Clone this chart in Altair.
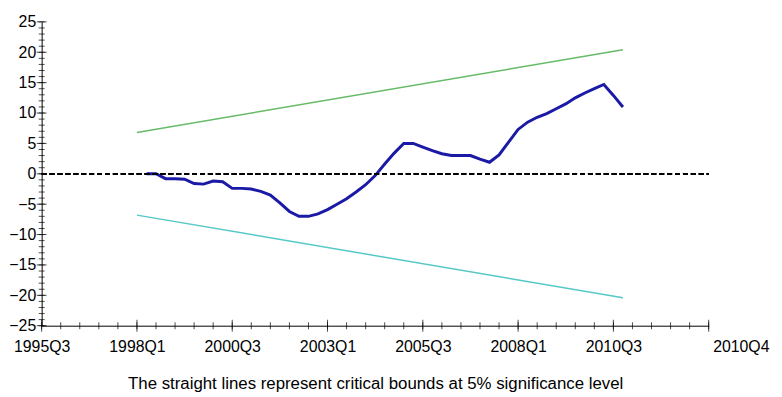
import altair as alt
import pandas as pd

# ---- data ----
cusum_q = list(range(11, 62))  # quarter index, 0 = 1995Q3
cusum_vals = [0.0, 0.0, -0.8, -0.8, -0.9, -1.6, -1.7, -1.2, -1.3, -2.4,
              -2.4, -2.5, -2.9, -3.5, -4.8, -6.2, -7.0, -7.0, -6.6, -5.9,
              -5.0, -4.1, -3.0, -1.8, -0.3, 1.6, 3.4, 5.0, 5.0, 4.4,
              3.8, 3.3, 3.0, 3.0, 3.0, 2.4, 1.9, 3.1, 5.2, 7.3,
              8.5, 9.3, 9.9, 10.7, 11.5, 12.5, 13.3, 14.0, 14.7, 12.9,
              11.0]
bound_q = [10, 61]
upper_bound = [6.8, 20.4]
lower_bound = [-6.8, -20.4]

x_major = [0, 10, 20, 30, 40, 50, 60, 70]
x_labels = ["1995Q3", "1998Q1", "2000Q3", "2003Q1", "2005Q3", "2008Q1", "2010Q3", "2010Q4"]
x_minor = list(range(0, 71, 2))
y_major = list(range(-25, 26, 5))
y_minor = list(range(-25, 26))

caption = "The straight lines represent critical bounds at 5% significance level"
FONT = "Liberation Sans, Arial, sans-serif"

cusum_df = pd.DataFrame({"q": cusum_q, "v": cusum_vals})
up_df = pd.DataFrame({"q": bound_q, "v": upper_bound})
lo_df = pd.DataFrame({"q": bound_q, "v": lower_bound})
xmaj_df = pd.DataFrame({"q": x_major})
xmin_df = pd.DataFrame({"q": x_minor})
ymaj_df = pd.DataFrame({"v": y_major})
ymin_df = pd.DataFrame({"v": y_minor})

label_arr = "[" + ",".join("'%s'" % s for s in x_labels) + "]"

xscale = alt.Scale(domain=[0, 70], nice=False, zero=False)
yscale = alt.Scale(domain=[-25, 25], nice=False, zero=False)

xaxis = alt.Axis(values=x_major, labelExpr=label_arr + "[round(datum.value/10)]",
                 ticks=False, tickSize=0, grid=False, domainColor="black",
                 labelFont=FONT, labelFontSize=16, labelColor="black",
                 labelPadding=13, labelOverlap=False, labelBound=False,
                 labelAlign={"condition": {"test": "datum.value == 70", "value": "left"}, "value": "center"},
                 labelOffset={"condition": {"test": "datum.value == 70", "value": 4}, "value": 0},
                 title=caption, titleFont=FONT, titleFontSize=17,
                 titleFontWeight="normal", titleColor="black", titlePadding=21)
yaxis = alt.Axis(values=y_major, tickCount=11, ticks=False, tickSize=0, grid=False,
                 domainColor="black", labelFont=FONT, labelFontSize=16,
                 labelColor="black", labelPadding=6, labelOverlap=False,
                 labelBound=False, labelFlush=False, labelSeparation=0,
                 labelExpr="datum.label", title=None)

X = alt.X("q:Q", scale=xscale, axis=xaxis)
Y = alt.Y("v:Q", scale=yscale, axis=yaxis)

cusum_line = alt.Chart(cusum_df).mark_line(color="#1a1aa6", strokeWidth=3).encode(x=X, y=Y)
up_line = alt.Chart(up_df).mark_line(color="#66bb66", strokeWidth=1.5).encode(x=X, y=Y)
lo_line = alt.Chart(lo_df).mark_line(color="#55c8c8", strokeWidth=1.5).encode(x=X, y=Y)

zero_line = alt.Chart(xmaj_df).mark_rule(color="black", strokeDash=[5, 3], strokeWidth=1.2).encode(
    x=alt.datum(0), x2=alt.datum(70), y=alt.datum(0))

xminor_ticks = alt.Chart(xmin_df).mark_tick(orient="vertical", size=7, thickness=1, color="black").encode(
    x=X, y=alt.datum(-25))
xmajor_ticks = alt.Chart(xmaj_df).mark_tick(orient="vertical", size=12, thickness=1, color="black").encode(
    x=X, y=alt.datum(-25))
yminor_ticks = alt.Chart(ymin_df).mark_tick(orient="horizontal", size=6, thickness=1, color="black").encode(
    y=Y, x=alt.datum(0))
ymajor_ticks = alt.Chart(ymaj_df).mark_tick(orient="horizontal", size=10, thickness=1, color="black").encode(
    y=Y, x=alt.datum(0))

chart = alt.layer(
    cusum_line, up_line, lo_line, zero_line,
    xminor_ticks, xmajor_ticks, yminor_ticks, ymajor_ticks
).properties(
    width=674, height=307,
    autosize=alt.AutoSizeParams(type="none"),
    padding={"left": 34, "top": 12, "right": 66, "bottom": 68},
    background="white",
).configure_view(stroke=None).configure_axis(labelOverlap=False).configure_axisY(labelOverlap=False)

chart.save("out.html", embed_options={"renderer": "svg", "actions": False})
